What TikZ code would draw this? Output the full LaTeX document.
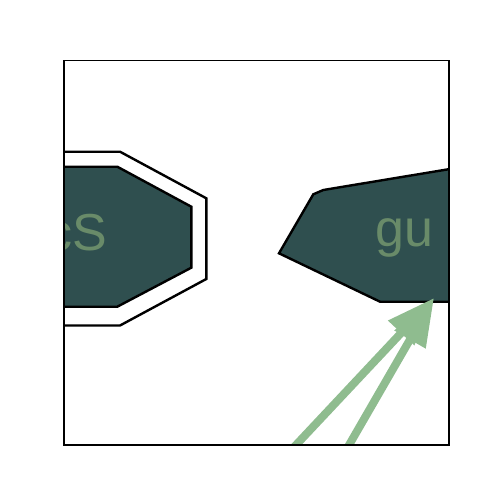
\documentclass[tikz,border=0pt]{standalone}
\usepackage{fontspec}
\setmainfont{Liberation Sans}
\usetikzlibrary{arrows.meta}
\definecolor{nodefill}{HTML}{2F4F4F}
\definecolor{labelcol}{HTML}{698B69}
\definecolor{edgecol}{HTML}{8FBC8F}
\tikzset{
  shapeline/.style={draw=black, line width=2.4pt, line join=miter},
  shapefill/.style={shapeline, fill=nodefill},
  bigtext/.style={text=labelcol, inner sep=0pt, font=\fontsize{52}{60}\selectfont},
  edgeline/.style={draw=edgecol, line width=8pt, -{Triangle[length=48pt,width=34pt]}}
}
\begin{document}
\begin{tikzpicture}[x=1pt,y=-1pt]
\useasboundingbox (0,0) rectangle (500,500);
\begin{scope}
  \clip (64,60.5) rectangle (449,445);
  % left double octagon
  \draw[shapeline] (20,151.7) -- (120,151.7) -- (206.3,198.3) -- (206.3,279) -- (120,325.5) -- (20,325.5);
  \draw[shapefill] (20,166.7) -- (117.3,166.7) -- (191.3,206.7) -- (191.3,267.7) -- (117.3,306.7) -- (20,306.7);
  \node[bigtext, anchor=base east] (lefttext) at (107.5,250) {cS};
  % right polygon
  \draw[shapefill] (520,157.4) -- (323.3,190) -- (313.3,194.3) -- (279,253.3) -- (380,301.7) -- (520,301.7);
  \node[bigtext, anchor=base west] (righttext) at (375.5,246.7) {gu};
  % edges
  \coordinate (s1) at (272.5,470);
  \coordinate (s2) at (334.6,470);
  \coordinate (t) at (434,298);
  \draw[edgeline] (s1) -- (t);
  \draw[edgeline] (s2) -- (t);
\end{scope}
\draw[line width=1.3pt] (64,60.5) rectangle (449,445);
\end{tikzpicture}
\end{document}
